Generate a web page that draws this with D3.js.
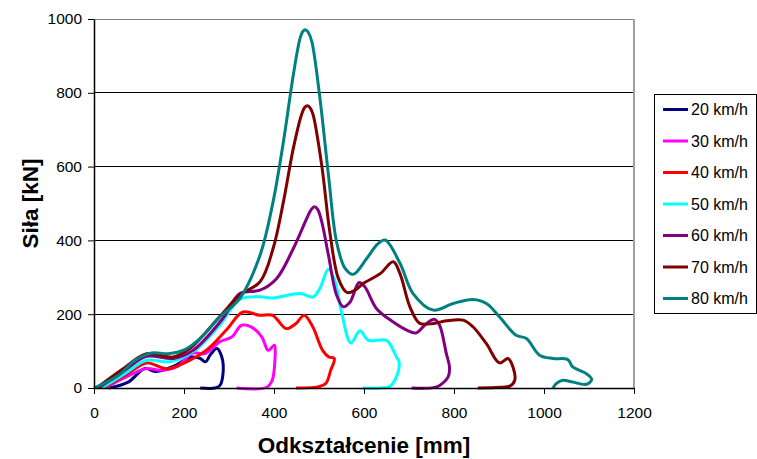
<!DOCTYPE html>
<html>
<head>
<meta charset="utf-8">
<script src="https://cdn.jsdelivr.net/npm/d3@7"></script>
<style>
  body { margin: 0; background: #fff; }
  svg { font-family: "Liberation Sans", Arial, sans-serif; }
</style>
</head>
<body>
<div id="graphic"></div>
<script>
// series names and colours
const seriesNames = ["20 km/h", "30 km/h", "40 km/h", "50 km/h", "60 km/h", "70 km/h", "80 km/h"];
const seriesColors = ["#000080", "#ff00ff", "#ff0000", "#00ffff", "#800080", "#800000", "#008080"];

// deformation [mm] / force [kN]
const v20x = [32, 76, 113, 136, 173, 217, 236, 248, 258, 273, 284, 287, 280, 269, 236];
const v20y = [0, 16, 53, 45, 57, 84, 80, 71, 89, 107, 84, 43, 7, 0, 0];

const v30x = [24, 80, 117, 146, 183, 220, 246, 279, 306, 328, 350, 373, 387, 401, 402, 396, 384, 317];
const v30y = [0, 35, 53, 48, 57, 95, 93, 125, 138, 170, 165, 138, 102, 116, 75, 21, 2, 0];

const v40x = [21, 80, 117, 161, 190, 249, 294, 331, 368, 397, 427, 449, 467, 486, 508, 522, 534, 526, 515, 497, 449];
const v40y = [0, 43, 68, 52, 62, 102, 157, 206, 197, 197, 161, 175, 197, 166, 102, 84, 80, 48, 12, 3, 0];

const v50x = [17, 70, 117, 168, 220, 279, 324, 369, 398, 458, 487, 502, 521, 536, 550, 571, 591, 610, 650, 672, 678, 672, 658, 635, 597];
const v50y = [0, 40, 75, 71, 98, 170, 240, 247, 244, 256, 247, 270, 322, 288, 206, 122, 155, 129, 129, 84, 71, 30, 5, 0, 0];

const v60x = [10, 65, 117, 176, 220, 286, 324, 369, 406, 443, 473, 483, 490, 497, 506, 521, 539, 554, 569, 589, 602, 628, 665, 695, 715, 739, 757, 768, 783, 790, 787, 768, 754, 706];
const v60y = [0, 45, 86, 80, 102, 188, 256, 265, 297, 378, 460, 484, 491, 484, 451, 360, 252, 220, 233, 286, 274, 215, 179, 157, 149, 175, 186, 170, 93, 57, 30, 7, 1, 0];

const v70x = [6, 60, 117, 176, 213, 279, 324, 369, 398, 421, 443, 461, 468, 475, 481, 487, 506, 524, 543, 562, 580, 598, 636, 665, 680, 702, 724, 754, 783, 820, 842, 872, 901, 920, 931, 935, 924, 901, 853];
const v70y = [0, 48, 93, 84, 107, 193, 252, 288, 378, 505, 650, 740, 760, 765, 758, 740, 604, 423, 297, 259, 265, 283, 310, 342, 310, 220, 175, 175, 182, 184, 166, 120, 68, 80, 57, 21, 5, 2, 0];

const v80x = [0, 54, 91, 128, 165, 202, 239, 276, 324, 369, 398, 421, 443, 458, 464, 470, 476, 484, 502, 521, 539, 558, 576, 606, 630, 647, 680, 709, 754, 798, 842, 872, 901, 938, 961, 990, 1020, 1053, 1064, 1094, 1106, 1094, 1064, 1042, 1027, 1020];
const v80y = [0, 34, 75, 95, 93, 104, 138, 188, 243, 360, 505, 668, 849, 948, 966, 971, 964, 939, 786, 577, 396, 324, 308, 351, 390, 401, 338, 256, 211, 229, 240, 229, 193, 143, 134, 89, 80, 77, 57, 39, 23, 10, 16, 21, 12, 0];

const xTicks = [0, 200, 400, 600, 800, 1000, 1200];
const yTicks = [0, 200, 400, 600, 800, 1000];

const allX = [v20x, v30x, v40x, v50x, v60x, v70x, v80x];
const allY = [v20y, v30y, v40y, v50y, v60y, v70y, v80y];

const graphicWidth = 757;
const graphicHeight = 459;
const margin = {top: 19, right: 123, bottom: 71, left: 94};
const plotWidth = graphicWidth - margin.left - margin.right;
const plotHeight = graphicHeight - margin.top - margin.bottom;

const svg = d3.select("#graphic")
    .append("svg")
    .attr("width", graphicWidth)
    .attr("height", graphicHeight);

const plot = svg.append("g")
    .attr("transform", "translate(" + margin.left + "," + margin.top + ")");

const x = d3.scaleLinear().domain([0, 1200]).range([0, plotWidth]);
const y = d3.scaleLinear().domain([0, 1000]).range([plotHeight, 0]);

// grid lines
plot.append("g")
    .selectAll("line")
    .data(yTicks.filter(d => d > 0))
    .join("line")
    .attr("x1", 0)
    .attr("x2", plotWidth)
    .attr("y1", d => y(d))
    .attr("y2", d => y(d))
    .attr("stroke", d => d === 1000 ? "#808080" : "#000")
    .attr("stroke-width", 1)
    .attr("shape-rendering", "crispEdges");

// right border
plot.append("line")
    .attr("x1", plotWidth).attr("x2", plotWidth)
    .attr("y1", 0).attr("y2", plotHeight)
    .attr("stroke", "#a0a0a0")
    .attr("stroke-width", 2)
    .attr("shape-rendering", "crispEdges");

// the curves
const line = d3.line()
    .curve(d3.curveCatmullRom.alpha(0.5))
    .x(d => x(d[0]))
    .y(d => y(d[1]));

allX.forEach(function(xs, i) {
    const pts = xs.map((v, j) => [v, allY[i][j]]);
    plot.append("path")
        .datum(pts)
        .attr("fill", "none")
        .attr("stroke", seriesColors[i])
        .attr("stroke-width", 3)
        .attr("stroke-linejoin", "round")
        .attr("d", line);
});

// axes
const xAxis = plot.append("g")
    .attr("transform", "translate(0," + plotHeight + ")")
    .call(d3.axisBottom(x).tickValues(xTicks).tickFormat(d3.format("d"))
        .tickSize(6).tickPadding(13).tickSizeOuter(0));
const yAxis = plot.append("g")
    .call(d3.axisLeft(y).tickValues(yTicks).tickFormat(d3.format("d"))
        .tickSize(6).tickPadding(6).tickSizeOuter(0));

[xAxis, yAxis].forEach(function(a) {
    a.select(".domain").attr("stroke", "#000").attr("stroke-width", 1.5);
    a.selectAll(".tick line").attr("stroke", "#000");
    a.selectAll(".tick text")
        .attr("fill", "#000")
        .style("font-size", "15.5px")
        .style("font-family", "'Liberation Sans', Arial, sans-serif");
});

// axis titles
svg.append("text")
    .attr("x", margin.left + plotWidth / 2)
    .attr("y", 453)
    .attr("text-anchor", "middle")
    .style("font-size", "22.5px")
    .style("font-weight", "bold")
    .text("Odkształcenie [mm]");

svg.append("text")
    .attr("transform", "translate(38," + (margin.top + plotHeight / 2) + ") rotate(-90)")
    .attr("text-anchor", "middle")
    .style("font-size", "22.5px")
    .style("font-weight", "bold")
    .text("Siła [kN]");

// legend
const legend = svg.append("g").attr("transform", "translate(654,94)");
legend.append("rect")
    .attr("x", 0).attr("y", 0)
    .attr("width", 102).attr("height", 219)
    .attr("fill", "#fff")
    .attr("stroke", "#000")
    .attr("stroke-width", 1)
    .attr("shape-rendering", "crispEdges");

const items = legend.selectAll("g.item")
    .data(seriesNames)
    .join("g")
    .attr("class", "item")
    .attr("transform", (d, i) => "translate(0," + (15.5 + i * 31.5) + ")");
items.append("line")
    .attr("x1", 9).attr("x2", 34)
    .attr("stroke", (d, i) => seriesColors[i])
    .attr("stroke-width", 3);
items.append("text")
    .attr("x", 37)
    .attr("dy", "0.36em")
    .style("font-size", "16px")
    .text(d => d);
</script>
</body>
</html>
